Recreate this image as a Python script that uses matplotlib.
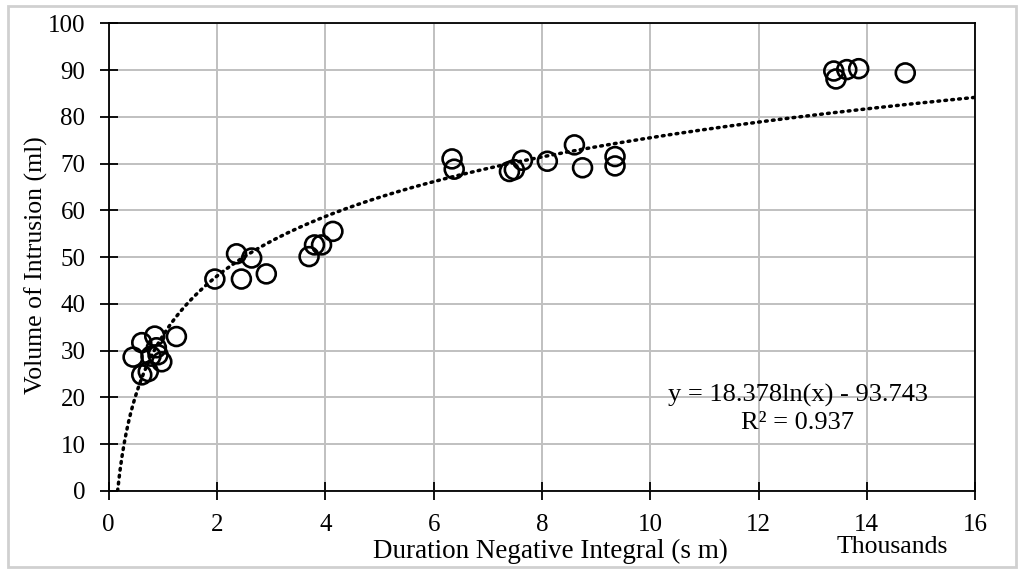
import numpy as np
import matplotlib
matplotlib.use("Agg")
import matplotlib.pyplot as plt
from matplotlib.patches import Rectangle

# duration negative integral (thousands of s m) and intrusion volume (ml)
duration = [0.45, 0.61, 0.61, 0.73, 0.78, 0.85, 0.88, 0.91, 0.98, 1.25,
            1.96, 2.36, 2.45, 2.64, 2.91,
            3.70, 3.80, 3.93, 4.14,
            6.34, 6.38, 7.40, 7.49, 7.64, 8.10, 8.60, 8.75, 9.35, 9.35,
            13.39, 13.43, 13.63, 13.85, 14.71]
volume = [28.6, 31.7, 24.8, 25.5, 28.8, 33.1, 30.6, 29.1, 27.6, 33.0,
          45.3, 50.7, 45.3, 49.8, 46.4,
          50.1, 52.6, 52.6, 55.5,
          71.0, 68.8, 68.3, 68.7, 70.7, 70.5, 74.0, 69.1, 71.5, 69.5,
          89.8, 88.1, 90.1, 90.3, 89.4]

# log trend reported on the chart (x in s m)
coef_a = 18.378
coef_b = -93.743
r2 = 0.937

xticks = [0, 2, 4, 6, 8, 10, 12, 14, 16]
yticks = [0, 10, 20, 30, 40, 50, 60, 70, 80, 90, 100]

plt.rcParams['font.family'] = ['Liberation Serif', 'DejaVu Serif']

fig = plt.figure(figsize=(10.2, 5.69), dpi=100)
ax = fig.add_axes([0.1066, 0.1374, 0.8494, 0.8216])

# trend line, starting where it crosses zero
x0 = np.exp(-coef_b / coef_a) / 1000
xt = np.linspace(x0, 16, 400)
yt = coef_a * np.log(xt * 1000) + coef_b
ax.plot(xt, yt, color='black', linestyle=(0, (0.5, 1.5)), linewidth=2.5,
        dash_capstyle='round', zorder=2)

ax.scatter(duration, volume, s=185, facecolors='none', edgecolors='black',
           linewidths=1.9, zorder=3)

ax.set_xlim(0, 16)
ax.set_ylim(0, 100)
ax.set_xticks(xticks)
ax.set_yticks(yticks)
ax.grid(True, color='#c0c0c0', linewidth=1.4)
ax.set_axisbelow(True)

for s in ax.spines.values():
    s.set_color('black')
    s.set_linewidth(1.3)

ax.tick_params(direction='inout', length=13.5, width=1.3, labelsize=18,
               colors='black')
ax.tick_params(axis='y', pad=10)
ax.tick_params(axis='x', pad=10)

fig.text(36 / 1020, 1 - 265 / 569, 'Volume of Intrusion (ml)', fontsize=18.5,
         rotation=90, ha='center', va='center')
fig.text(550 / 1020, 1 - 558 / 569, 'Duration Negative Integral (s m)',
         fontsize=19.5, ha='center', va='baseline')

fig.text(892 / 1020, 1 - 553 / 569, 'Thousands', fontsize=18.5,
         ha='center', va='baseline')

fig.text(798 / 1020, 1 - 409 / 569, 'y = 18.378ln(x) - 93.743\nR² = 0.937',
         fontsize=19, ha='center', va='center', linespacing=1.3)

fig.patches.append(Rectangle((0.0078, 0.0035), 0.988, 0.986,
                             transform=fig.transFigure, fill=False,
                             edgecolor='#d0d0d0', linewidth=2))

fig.savefig('out.png', dpi=100)
